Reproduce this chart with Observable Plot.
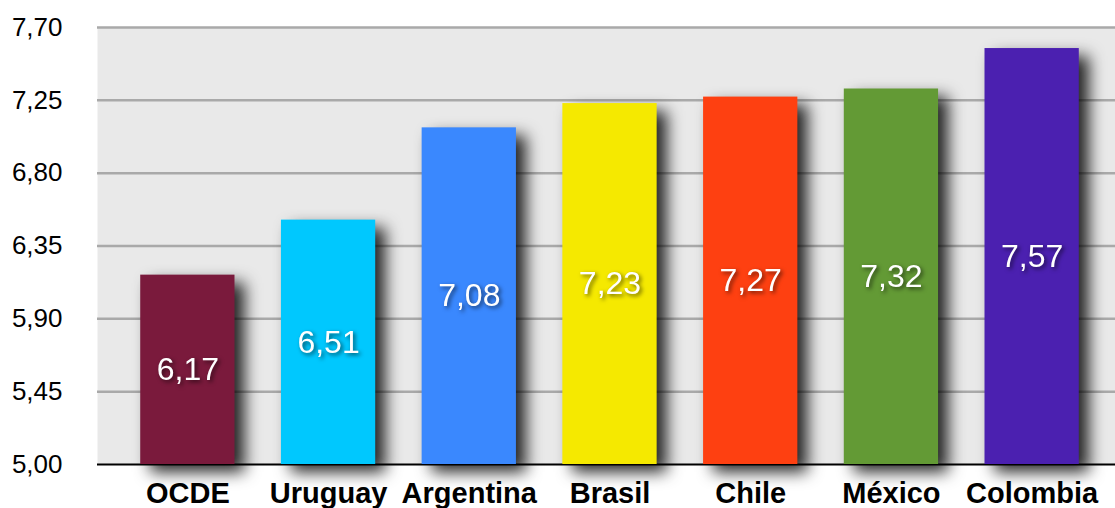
<!DOCTYPE html>
<html><head><meta charset="utf-8">
<script src="https://cdn.jsdelivr.net/npm/d3@7"></script>
<script src="https://cdn.jsdelivr.net/npm/@observablehq/plot@0.6"></script>
<style>body{margin:0;background:#fff}</style>
</head><body><div id="chart"></div>
<script>
const categories = ["OCDE","Uruguay","Argentina","Brasil","Chile","México","Colombia"];
const values = [6.17,6.51,7.08,7.23,7.27,7.32,7.57];
const colors = ["#7a1a3c","#00c8fe","#3a88fe","#f5e900","#fe4011","#639a35","#4b20b0"];
const yTicks = [5.00,5.45,5.90,6.35,6.80,7.25,7.70];
const data = categories.map((c,i)=>({c, v: values[i], color: colors[i]}));
const fmt = d => d.toFixed(2).replace(".", ",");
const chart = Plot.plot({
  width:1115, height:508, marginLeft:97, marginRight:0, marginTop:27, marginBottom:44,
  style:{fontFamily:"'Liberation Sans', Arial, Helvetica, sans-serif", background:"white", color:"black"},
  x:{domain:categories, range:[117,1102], paddingInner:0.33, paddingOuter:0.165, round:false, label:null},
  y:{domain:[5,7.7], label:null},
  color:{type:"identity"},
  marks:[
    Plot.frame({fill:"#e9e9e9", stroke:null}),
    Plot.ruleY(yTicks.slice(1), {stroke:"#a9a9a9", strokeWidth:2.5}),
    Plot.ruleY([5], {stroke:"black", strokeWidth:2}),
    Plot.barY(data, {x:"c", y1:5, y2:"v", fill:"color"}),
    Plot.text(data, {x:"c", y:d=>(5+d.v)/2, text:d=>fmt(d.v), fill:"white", fontSize:32}),
    Plot.axisY(yTicks, {tickSize:0, tickPadding:35, fontSize:26, tickFormat:fmt, label:null}),
    Plot.axisX({tickSize:0, tickPadding:18, fontSize:29, fontWeight:"bold", label:null})
  ]
});
document.getElementById("chart").append(chart);
d3.select(chart).selectAll('g[aria-label="bar"]').style("filter","drop-shadow(10px 8px 8px rgba(0,0,0,0.85))");
d3.select(chart).selectAll('g[aria-label="text"]').style("filter","drop-shadow(2px 2px 2px rgba(0,0,0,0.6))");
</script></body></html>
